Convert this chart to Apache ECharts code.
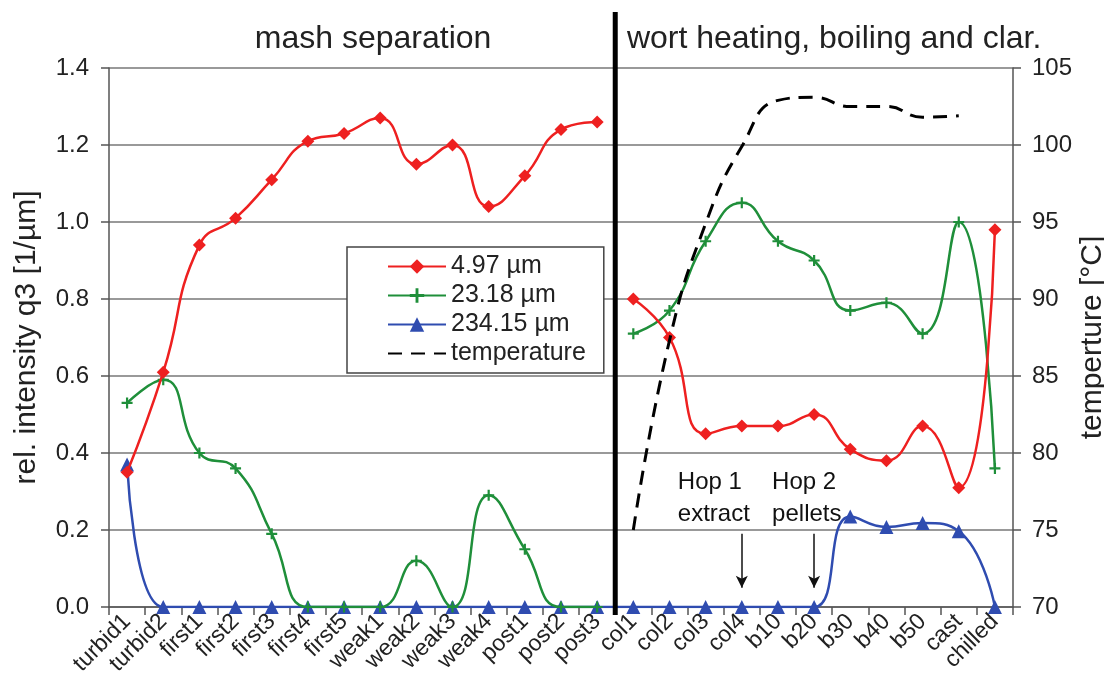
<!DOCTYPE html>
<html>
<head>
<meta charset="utf-8">
<script src="https://cdn.jsdelivr.net/npm/echarts@6/dist/echarts.min.js"></script>
<style>
html,body{margin:0;padding:0;background:#fff;}
#c{width:1104px;height:682px;}
</style>
</head>
<body>
<div id="c"></div>
<script>
// ---- data ----
const categories = ['turbid1','turbid2','first1','first2','first3','first4','first5','weak1','weak2','weak3','weak4','post1','post2','post3','col1','col2','col3','col4','b10','b20','b30','b40','b50','cast','chilled'];
const sectionSplit = 'col1'; // first category of second section
const sectionTitles = ['mash separation', 'wort heating, boiling and clar.'];
const q497 = [0.35,0.61,0.94,1.01,1.11,1.21,1.23,1.27,1.15,1.20,1.04,1.12,1.24,1.26,0.80,0.70,0.45,0.47,0.47,0.50,0.41,0.38,0.47,0.31,0.98];
const q2318 = [0.53,0.59,0.40,0.36,0.19,0.0,0.0,0.0,0.12,0.0,0.29,0.15,0.0,0.0,0.71,0.77,0.95,1.05,0.95,0.90,0.77,0.79,0.71,1.00,0.36];
const q23415 = [0.37,0,0,0,0,0,0,0,0,0,0,0,0,0,0,0,0,0,0,0,0.235,0.208,0.218,0.197,0];
const temperature = [null,null,null,null,null,null,null,null,null,null,null,null,null,null,75.0,87.3,94.9,99.9,102.9,103.1,102.5,102.5,101.8,101.9,null];
const leftTicks = {min:0, max:1.4, interval:0.2};
const rightTicks = {min:70, max:105, interval:5};
const annotations = [
  {cat:'col4', text:'Hop 1\nextract', from:0.19, to:0.05, dx:-64},
  {cat:'b20', text:'Hop 2\npellets', from:0.19, to:0.05, dx:-42}
];
const names = ['4.97 µm','23.18 µm','234.15 µm','temperature'];

// ---- build ----
const splitIdx = categories.indexOf(sectionSplit);
const leftPart = a => a.map((v,i)=> i < splitIdx ? v : null);
const rightPart = a => a.map((v,i)=> i >= splitIdx ? v : null);

const FONT = "'Liberation Sans', Arial, sans-serif";
const RED = '#ee2020', GREEN = '#1f8f3a', BLUE = '#2f4cb0';
const PLUS = 'path://M4,0 L6,0 L6,4 L10,4 L10,6 L6,6 L6,10 L4,10 L4,6 L0,6 L0,4 L4,4 Z';

function lineSeries(name, data, color, symbol, size, extra) {
  return Object.assign({
    name, type:'line', data, smooth:true, symbol, symbolSize:size,
    showSymbol:true, connectNulls:false,
    itemStyle:{color}, lineStyle:{color, width:2.5}
  }, extra || {});
}

const chart = echarts.init(document.getElementById('c'), null, {renderer:'canvas'});
const option = {
  animation:false,
  textStyle:{fontFamily:FONT},
  grid:{left:109, right:91, top:68, bottom:75, containLabel:false, outerBoundsMode:'none'},
  legend:{
    data:[names[0], names[1], names[2],
      {name:names[3], itemStyle:{color:'rgba(0,0,0,0)', borderColor:'rgba(0,0,0,0)', borderWidth:0}}],
    orient:'vertical', left:347, top:247,
    itemWidth:58, itemHeight:18, itemGap:4,
    padding:[7,18,7,40],
    backgroundColor:'#fff', borderColor:'#444', borderWidth:1.5,
    textStyle:{fontSize:25, color:'#222', fontFamily:FONT}
  },
  xAxis:{
    type:'category', data:categories, boundaryGap:true,
    axisLine:{lineStyle:{color:'#555', width:1.5}},
    axisTick:{show:true, length:8, lineStyle:{color:'#555', width:1.5}},
    axisLabel:{interval:0, rotate:45, fontSize:23, color:'#222', margin:11, fontFamily:FONT}
  },
  yAxis:[{
    type:'value', min:leftTicks.min, max:leftTicks.max, interval:leftTicks.interval,
    name:'rel. intensity q3 [1/µm]', nameLocation:'middle', nameGap:67, nameRotate:90,
    nameMoveOverlap:false,
    nameTextStyle:{fontSize:30, color:'#222', fontFamily:FONT},
    axisLine:{show:true, lineStyle:{color:'#555', width:1.5}},
    axisTick:{show:true, length:8, lineStyle:{color:'#555', width:1.5}},
    axisLabel:{formatter:v=>v.toFixed(1), fontSize:24, color:'#222', margin:20, fontFamily:FONT},
    splitLine:{show:true, lineStyle:{color:'#777', width:1.5}}
  },{
    type:'value', position:'right', min:rightTicks.min, max:rightTicks.max, interval:rightTicks.interval,
    name:'temperture [°C]', nameLocation:'middle', nameGap:65, nameRotate:90,
    nameMoveOverlap:false,
    nameTextStyle:{fontSize:30, color:'#222', fontFamily:FONT},
    axisLine:{show:true, lineStyle:{color:'#555', width:1.5}},
    axisTick:{show:true, length:8, lineStyle:{color:'#555', width:1.5}},
    axisLabel:{fontSize:24, color:'#222', margin:19, fontFamily:FONT},
    splitLine:{show:false}
  }],
  series:[
    lineSeries(names[2], q23415, BLUE, 'triangle', 14, {
      z:3,
      markLine:{
        silent:true, symbol:['none','arrow'], symbolSize:[9,12],
        label:{show:false},
        lineStyle:{color:'#111', width:1.5, type:'solid'},
        data: annotations.map(a => [{coord:[a.cat, a.from]}, {coord:[a.cat, a.to]}])
      }
    }),
    lineSeries(names[1], leftPart(q2318), GREEN, PLUS, 11, {z:4}),
    lineSeries(names[1], rightPart(q2318), GREEN, PLUS, 11, {z:4}),
    lineSeries(names[0], leftPart(q497), RED, 'diamond', 13, {z:5}),
    lineSeries(names[0], rightPart(q497), RED, 'diamond', 13, {z:5}),
    {
      name:names[3], type:'line', yAxisIndex:1, data:temperature, smooth:true,
      symbol:'none', connectNulls:false, z:6,
      itemStyle:{color:'#000'},
      lineStyle:{color:'#000', width:3, type:[14,9]}
    }
  ]
};
chart.setOption(option);

// graphics derived from the library's scales
const xPrev = chart.convertToPixel({xAxisIndex:0}, categories[splitIdx-1]);
const xNext = chart.convertToPixel({xAxisIndex:0}, categories[splitIdx]);
const xSep = (xPrev + xNext) / 2;
const yBottom = chart.convertToPixel({yAxisIndex:0}, leftTicks.min);
const firstCenter = chart.convertToPixel({xAxisIndex:0}, categories[0]);
const lastCenter = chart.convertToPixel({xAxisIndex:0}, categories[categories.length-1]);
const half = (xNext - xPrev) / 2;
const plotL = firstCenter - half, plotR = lastCenter + half;

const graphics = [
  {type:'rect', z:10, shape:{x:xSep-2.5, y:12, width:5, height:yBottom+8-12}, style:{fill:'#000'}},
  {type:'text', z:10, style:{text:sectionTitles[0], x:(plotL+xSep)/2 + 11, y:39, align:'center', verticalAlign:'middle', fontSize:32, fontFamily:FONT, fill:'#222'}},
  {type:'text', z:10, style:{text:sectionTitles[1], x:(xSep+plotR)/2 + 20, y:39, align:'center', verticalAlign:'middle', fontSize:32, fontFamily:FONT, fill:'#222'}}
];
annotations.forEach(a => {
  const px = chart.convertToPixel({xAxisIndex:0}, a.cat);
  const py = chart.convertToPixel({yAxisIndex:0}, a.from);
  graphics.push({type:'text', z:10, style:{text:a.text, x:px + a.dx, y:py - 3, align:'left', verticalAlign:'bottom', fontSize:24, lineHeight:32, fontFamily:FONT, fill:'#111'}});
});
chart.setOption({graphic:graphics});
</script>
</body>
</html>
